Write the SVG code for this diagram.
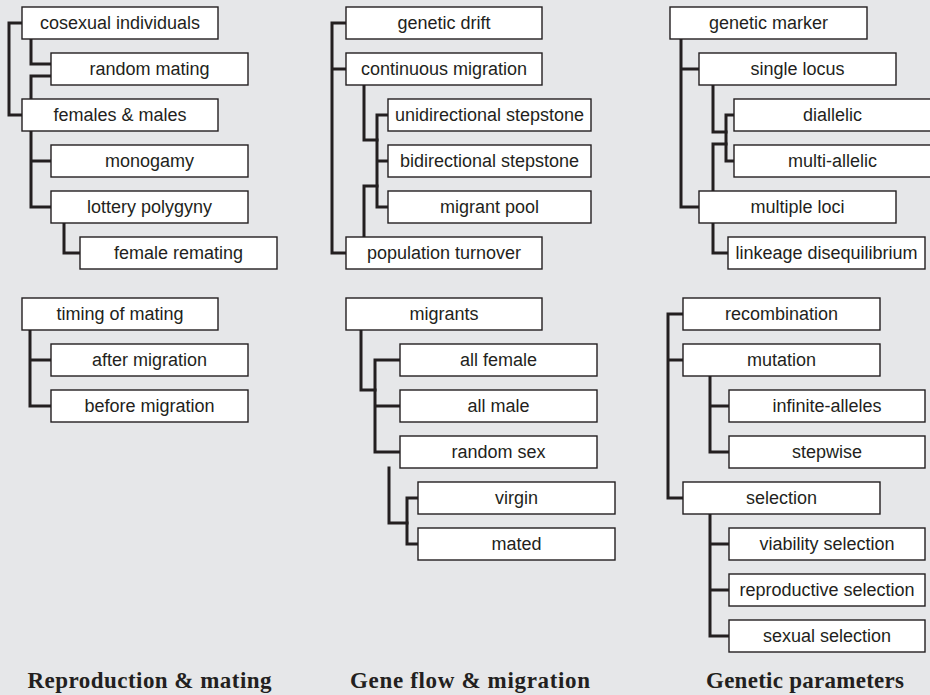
<svg xmlns="http://www.w3.org/2000/svg" width="930" height="695" viewBox="0 0 930 695">
<style>
.bg{fill:#e6e7e9}
.node rect{fill:#fff;stroke:#231f20;stroke-width:1.4}
.node text{font-family:"Liberation Sans",Arial,sans-serif;font-size:18px;fill:#231f20;text-anchor:middle}
#connectors path{fill:none;stroke:#231f20;stroke-width:3;stroke-linejoin:miter;stroke-linecap:square}
.title{font-family:"Liberation Serif","Times New Roman",serif;font-weight:bold;font-size:23px;fill:#231f20;text-anchor:middle}
</style>
<rect class="bg" x="0" y="0" width="930" height="695"/>
<g id="connectors">
<path d="M22,23 H9 V115 H22"/>
<path d="M31,39 V64 H51"/>
<path d="M51,76 H31 V99"/>
<path d="M31,131 V207 H51 M31,161 H51"/>
<path d="M64,223 V253 H80"/>
<path d="M30,330 V406 H51 M30,360 H51"/>
<path d="M346,23 H332 V253 H346 M332,69 H346"/>
<path d="M364,85 V140 H377"/>
<path d="M364,237 V186 H377"/>
<path d="M388,115 H377 V207 H388 M377,161 H388"/>
<path d="M361,330 V390 H375"/>
<path d="M400,360 H375 V452 H400 M375,406 H400"/>
<path d="M389,468 V523 H407"/>
<path d="M418,498 H407 V544 H418"/>
<path d="M681,39 V207 H699 M681,69 H699"/>
<path d="M713,85 V132 H726"/>
<path d="M713,191 V144 H726"/>
<path d="M734,115 H726 V161 H734"/>
<path d="M713,223 V253 H728"/>
<path d="M683,314 H668 V498 H683 M668,360 H683"/>
<path d="M710,376 V452 H729 M710,406 H729"/>
<path d="M710,514 V636 H729 M710,544 H729 M710,590 H729"/>
</g>
<g id="n-cosexual" class="node"><rect x="22" y="7" width="196" height="32"/><text x="120" y="29">cosexual individuals</text></g>
<g id="n-random-mating" class="node"><rect x="51" y="53" width="197" height="32"/><text x="149.5" y="75">random mating</text></g>
<g id="n-females-males" class="node"><rect x="22" y="99" width="196" height="32"/><text x="120" y="121">females &amp; males</text></g>
<g id="n-monogamy" class="node"><rect x="51" y="145" width="197" height="32"/><text x="149.5" y="167">monogamy</text></g>
<g id="n-lottery" class="node"><rect x="51" y="191" width="197" height="32"/><text x="149.5" y="213">lottery polygyny</text></g>
<g id="n-female-remating" class="node"><rect x="80" y="237" width="197" height="32"/><text x="178.5" y="259">female remating</text></g>
<g id="n-timing" class="node"><rect x="22" y="298" width="196" height="32"/><text x="120" y="320">timing of mating</text></g>
<g id="n-after" class="node"><rect x="51" y="344" width="197" height="32"/><text x="149.5" y="366">after migration</text></g>
<g id="n-before" class="node"><rect x="51" y="390" width="197" height="32"/><text x="149.5" y="412">before migration</text></g>

<g id="n-drift" class="node"><rect x="346" y="7" width="196" height="32"/><text x="444" y="29">genetic drift</text></g>
<g id="n-continuous" class="node"><rect x="346" y="53" width="196" height="32"/><text x="444" y="75">continuous migration</text></g>
<g id="n-unidirectional" class="node"><rect x="388" y="99" width="203" height="32"/><text x="489.5" y="121">unidirectional stepstone</text></g>
<g id="n-bidirectional" class="node"><rect x="388" y="145" width="203" height="32"/><text x="489.5" y="167">bidirectional stepstone</text></g>
<g id="n-pool" class="node"><rect x="388" y="191" width="203" height="32"/><text x="489.5" y="213">migrant pool</text></g>
<g id="n-turnover" class="node"><rect x="346" y="237" width="196" height="32"/><text x="444" y="259">population turnover</text></g>
<g id="n-migrants" class="node"><rect x="346" y="298" width="196" height="32"/><text x="444" y="320">migrants</text></g>
<g id="n-all-female" class="node"><rect x="400" y="344" width="197" height="32"/><text x="498.5" y="366">all female</text></g>
<g id="n-all-male" class="node"><rect x="400" y="390" width="197" height="32"/><text x="498.5" y="412">all male</text></g>
<g id="n-random-sex" class="node"><rect x="400" y="436" width="197" height="32"/><text x="498.5" y="458">random sex</text></g>
<g id="n-virgin" class="node"><rect x="418" y="482" width="197" height="32"/><text x="516.5" y="504">virgin</text></g>
<g id="n-mated" class="node"><rect x="418" y="528" width="197" height="32"/><text x="516.5" y="550">mated</text></g>

<g id="n-marker" class="node"><rect x="670" y="7" width="197" height="32"/><text x="768.5" y="29">genetic marker</text></g>
<g id="n-single" class="node"><rect x="699" y="53" width="197" height="32"/><text x="797.5" y="75">single locus</text></g>
<g id="n-diallelic" class="node"><rect x="734" y="99" width="197" height="32"/><text x="832.5" y="121">diallelic</text></g>
<g id="n-multi-allelic" class="node"><rect x="734" y="145" width="197" height="32"/><text x="832.5" y="167">multi-allelic</text></g>
<g id="n-multiple" class="node"><rect x="699" y="191" width="197" height="32"/><text x="797.5" y="213">multiple loci</text></g>
<g id="n-linkeage" class="node"><rect x="728" y="237" width="197" height="32"/><text x="826.5" y="259">linkeage disequilibrium</text></g>
<g id="n-recombination" class="node"><rect x="683" y="298" width="197" height="32"/><text x="781.5" y="320">recombination</text></g>
<g id="n-mutation" class="node"><rect x="683" y="344" width="197" height="32"/><text x="781.5" y="366">mutation</text></g>
<g id="n-infinite" class="node"><rect x="729" y="390" width="196" height="32"/><text x="827" y="412">infinite-alleles</text></g>
<g id="n-stepwise" class="node"><rect x="729" y="436" width="196" height="32"/><text x="827" y="458">stepwise</text></g>
<g id="n-selection" class="node"><rect x="683" y="482" width="197" height="32"/><text x="781.5" y="504">selection</text></g>
<g id="n-viability" class="node"><rect x="729" y="528" width="196" height="32"/><text x="827" y="550">viability selection</text></g>
<g id="n-reproductive" class="node"><rect x="729" y="574" width="196" height="32"/><text x="827" y="596">reproductive selection</text></g>
<g id="n-sexual" class="node"><rect x="729" y="620" width="196" height="32"/><text x="827" y="642">sexual selection</text></g>

<text class="title" x="149.5" y="688" textLength="244" lengthAdjust="spacing">Reproduction &amp; mating</text>
<text class="title" x="470" y="688" textLength="240" lengthAdjust="spacing">Gene flow &amp; migration</text>
<text class="title" x="805" y="688" textLength="198" lengthAdjust="spacing">Genetic parameters</text>
</svg>
